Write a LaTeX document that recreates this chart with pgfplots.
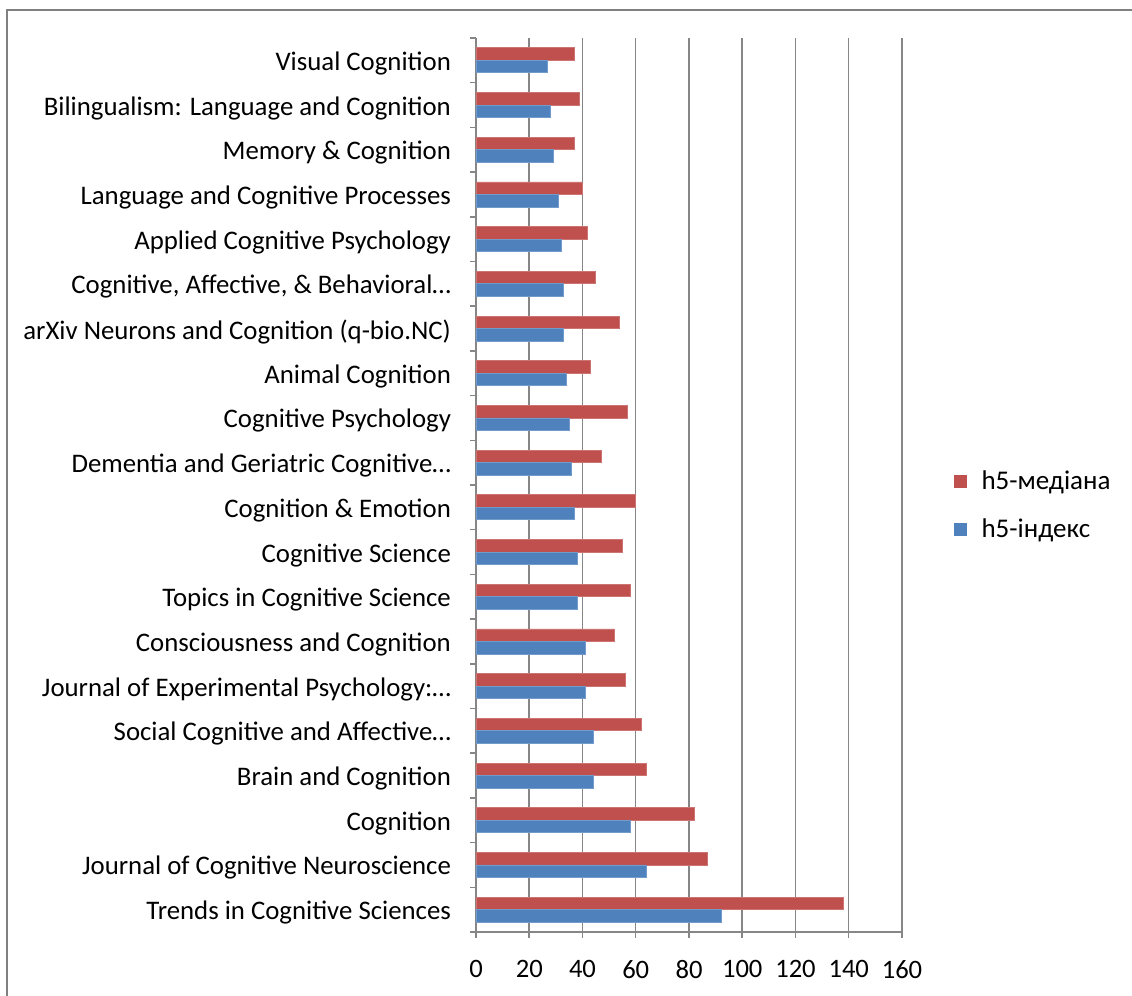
\documentclass[border=0pt]{standalone}
\usepackage{pgfplots}
\pgfplotsset{compat=1.18}
\usepackage{fontspec}
\setmainfont{Carlito}
\definecolor{redbar}{RGB}{192,80,77}
\definecolor{bluebar}{RGB}{79,129,189}
\definecolor{gridgray}{RGB}{134,134,134}
\definecolor{framegray}{RGB}{128,128,128}
\begin{document}
\begin{tikzpicture}[font=\fontsize{13}{15}\selectfont]
\path[use as bounding box] (0,0) rectangle (566pt,498pt);
\draw[framegray, line width=1pt] (3.5pt,0) -- (3.5pt,493pt) -- (566pt,493pt);
\begin{axis}[
  at={(238pt,32pt)}, anchor=south west,
  width=213pt, height=447pt, scale only axis,
  xbar, bar width=6.25pt,
  xmin=0, xmax=160, xtick={0,20,...,160},
  ymin=-0.5, ymax=19.5,
  ytick={-0.5,0.5,...,19.5}, yticklabels={},
  extra y ticks={0,1,...,19},
  extra y tick style={major tick length=0pt},
  extra y tick labels={
    Trends in Cognitive Sciences,
    Journal of Cognitive Neuroscience,
    Cognition,
    Brain and Cognition,
    Social Cognitive and Affective…,
    Journal of Experimental Psychology:…,
    Consciousness and Cognition,
    Topics in Cognitive Science,
    Cognitive Science,
    Cognition \& Emotion,
    Dementia and Geriatric Cognitive…,
    Cognitive Psychology,
    Animal Cognition,
    arXiv Neurons and Cognition (q-bio.NC),
    {Cognitive, Affective, \& Behavioral…},
    Applied Cognitive Psychology,
    Language and Cognitive Processes,
    Memory \& Cognition,
    Bilingualism: Language and Cognition,
    Visual Cognition},
  yticklabel style={xshift=-9pt, yshift=-1.5pt, font=\fontsize{13.4}{15}\selectfont},
  xticklabel style={font=\fontsize{13.3}{15}\selectfont, yshift=-7.5pt},
  /pgf/number format/assume math mode=true,
  tick align=outside, major tick length=3pt,
  tick style={gridgray, line width=0.75pt},
  axis x line*=bottom, axis y line*=left,
  axis line style={gridgray, line width=0.75pt, -},
  xmajorgrids, grid style={gridgray, line width=0.75pt},
  legend style={at={(axis description cs:1.12,0.477)}, anchor=west,
    draw=none, fill=none, row sep=9pt, font=\fontsize{13.5}{15}\selectfont,
    inner sep=0pt},
  legend cell align=left,
  legend image code/.code={\fill[#1, draw=none] (0pt,-3.25pt) rectangle (6.5pt,3.25pt); \path[draw=none, fill=none] (0pt,0pt) -- (12pt,0pt);},
]
\addplot[fill=redbar, draw=redbar!80!white, bar shift=3.125pt] coordinates {
(138,0) (87,1) (82,2) (64,3) (62,4) (56,5) (52,6) (58,7) (55,8) (60,9)
(47,10) (57,11) (43,12) (54,13) (45,14) (42,15) (40,16) (37,17) (39,18) (37,19)};
\addlegendentry{h5-медіана}
\addplot[fill=bluebar, draw=bluebar!80!white, bar shift=-3.125pt] coordinates {
(92,0) (64,1) (58,2) (44,3) (44,4) (41,5) (41,6) (38,7) (38,8) (37,9)
(36,10) (35,11) (34,12) (33,13) (33,14) (32,15) (31,16) (29,17) (28,18) (27,19)};
\addlegendentry{h5-індекс}
\end{axis}
\end{tikzpicture}
\end{document}
